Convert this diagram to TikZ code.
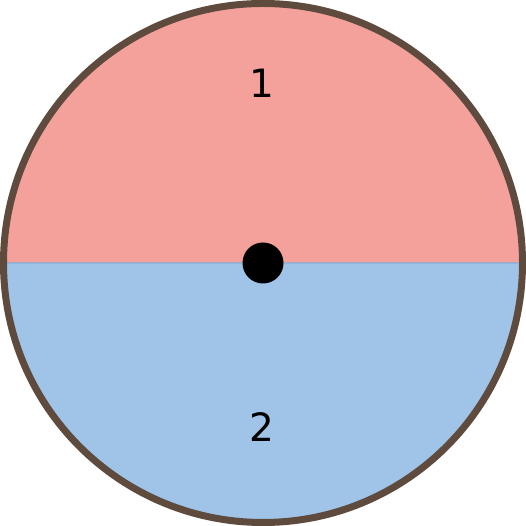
\documentclass[tikz,border=0pt]{standalone}
\usepackage{fontspec}
\setmainfont{DejaVu Sans}
\usepackage{xcolor}
\usetikzlibrary{positioning}
\definecolor{halfred}{HTML}{F5A19B}
\definecolor{halfredline}{HTML}{EA857D}
\definecolor{halfblue}{HTML}{9FC4E8}
\definecolor{halfblueline}{HTML}{84B2E0}
\definecolor{rimbrown}{HTML}{5E4B3E}

\begin{document}
\begin{tikzpicture}[x=1pt,y=1pt, every node/.style={font=\fontsize{39}{42}\selectfont}]
  \useasboundingbox (0,0) rectangle (526,526);
  \coordinate (centre) at (263,263);

  % halves
  \fill[halfred, draw=halfredline, line width=1.2pt]
    ([xshift=-259.5]centre) arc (180:0:259.5) -- cycle;
  \fill[halfblue, draw=halfblueline, line width=1.2pt]
    ([xshift=-259.5]centre) arc (180:360:259.5) -- cycle;

  % rim
  \draw[rimbrown, line width=7pt] (centre) circle (259.5);

  % pivot
  \fill[black] (centre) circle (20.5);

  % labels
  \node (one) at (262,443) {1};
  \node (two) at (262,99) {2};
\end{tikzpicture}
\end{document}
